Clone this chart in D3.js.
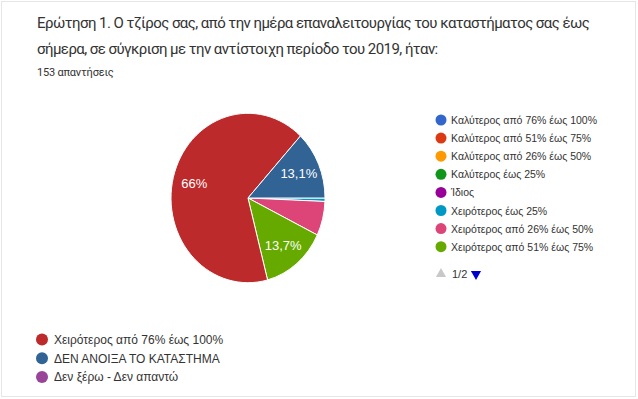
<!DOCTYPE html>
<html>
<head>
<meta charset="utf-8">
<script src="https://cdn.jsdelivr.net/npm/d3@7"></script>
<style>
  body { margin:0; background:#fff; }
  svg { display:block; }
</style>
</head>
<body>
<div id="chart"></div>
<script>
var titleLines = [
  "Ερώτηση 1. Ο τζίρος σας, από την ημέρα επαναλειτουργίας του καταστήματος σας έως",
  "σήμερα, σε σύγκριση με την αντίστοιχη περίοδο του 2019, ήταν:"
];
var responsesLabel = "153 απαντήσεις";

var categories = [
  "Καλύτερος από 76% έως 100%",
  "Καλύτερος από 51% έως 75%",
  "Καλύτερος από 26% έως 50%",
  "Καλύτερος έως 25%",
  "Ίδιος",
  "Χειρότερος έως 25%",
  "Χειρότερος από 26% έως 50%",
  "Χειρότερος από 51% έως 75%",
  "Χειρότερος από 76% έως 100%",
  "ΔΕΝ ΑΝΟΙΞΑ ΤΟ ΚΑΤΑΣΤΗΜΑ",
  "Δεν ξέρω - Δεν απαντώ"
];
// number of answers per category (153 in total)
var counts = [0, 0, 0, 0, 0, 1, 10, 21, 101, 20, 0];
var colours = ["#3366cc", "#dc3912", "#ff9900", "#109618", "#990099", "#0099c6",
               "#dd4477", "#66aa00", "#bc2a2c", "#316395", "#994499"];

// which categories go in the side legend (page 1/2) and in the bottom legend
var sideLegend = [0, 1, 2, 3, 4, 5, 6, 7];
var bottomLegend = [8, 9, 10];
var pageLabel = "1/2";

var width = 638, height = 399;
var svg = d3.select("#chart").append("svg")
  .attr("width", width)
  .attr("height", height);

// light frame round the screenshot
svg.append("rect")
  .attr("x", 1.5).attr("y", 1.5)
  .attr("width", 634).attr("height", 395)
  .attr("fill", "none")
  .attr("stroke", "#e6e6e6");

svg.selectAll(".title")
  .data(titleLines)
  .enter()
  .append("text")
  .attr("class", "title")
  .attr("x", 37)
  .attr("y", function(d, i) { return 28 + i * 26; })
  .style("font-family", "Roboto")
  .style("font-size", "15px")
  .style("letter-spacing", "-0.55px")
  .style("fill", "#333")
  .text(function(d) { return d; });

svg.append("text")
  .attr("x", 37).attr("y", 76)
  .style("font-family", "Roboto")
  .style("font-size", "11px")
  .style("letter-spacing", "-0.2px")
  .style("fill", "#333")
  .text(responsesLabel);

/// pie
var data = categories.map(function(c, i) {
  return {label: c, value: counts[i], colour: colours[i]};
});
var total = d3.sum(counts);
var cx = 248, cy = 198, r = 77, stretch = 1.1;

var pie = d3.pie()
  .sort(null)
  .value(function(d) { return d.value; })
  .startAngle(Math.PI / 2)
  .endAngle(Math.PI / 2 + 2 * Math.PI);
var arcs = pie(data).filter(function(d) { return d.value > 0; });

var arc = d3.arc().innerRadius(0).outerRadius(r);
var labelArc = d3.arc().innerRadius(r * 0.72).outerRadius(r * 0.72);

var pieG = svg.append("g")
  .attr("transform", "translate(" + cx + "," + cy + ") scale(1," + stretch + ")");

pieG.selectAll("path")
  .data(arcs)
  .enter()
  .append("path")
  .attr("d", arc)
  .attr("fill", function(d) { return d.data.colour; })
  .attr("stroke", "#fff")
  .attr("stroke-width", 1)
  .attr("vector-effect", "non-scaling-stroke");

var fmt = d3.format(".1f");
function pctLabel(v) {
  var s = fmt(v / total * 100);
  if (s.slice(-2) == ".0") s = s.slice(0, -2);
  return s.replace(".", ",") + "%";
}

svg.selectAll(".sliceLabel")
  .data(arcs.filter(function(d) { return d.value / total > 0.1; }))
  .enter()
  .append("text")
  .attr("class", "sliceLabel")
  .attr("x", function(d) { return cx + labelArc.centroid(d)[0]; })
  .attr("y", function(d) { return cy + labelArc.centroid(d)[1] * stretch + 4.5; })
  .attr("text-anchor", "middle")
  .style("font-family", "Liberation Sans")
  .style("font-size", "13px")
  .style("fill", "#fff")
  .text(function(d) { return pctLabel(d.value); });

/// side legend
var side = svg.selectAll(".sideEntry")
  .data(sideLegend)
  .enter()
  .append("g")
  .attr("class", "sideEntry")
  .attr("transform", function(d, i) { return "translate(441," + (120 + i * 18.1) + ")"; });
side.append("circle")
  .attr("r", 5.5)
  .attr("fill", function(d) { return colours[d]; });
side.append("text")
  .attr("x", 10).attr("y", 4)
  .style("font-family", "Liberation Sans")
  .style("font-size", "10.5px")
  .style("fill", "#333")
  .text(function(d) { return categories[d]; });

// pager
var pager = svg.append("g").attr("transform", "translate(441,274)");
pager.append("path")
  .attr("d", d3.symbol().type(d3.symbolTriangle).size(45))
  .attr("fill", "#c8c8c8");
pager.append("text")
  .attr("x", 11).attr("y", 4)
  .style("font-family", "Liberation Sans")
  .style("font-size", "11px")
  .style("fill", "#333")
  .text(pageLabel);
pager.append("path")
  .attr("d", d3.symbol().type(d3.symbolTriangle).size(45))
  .attr("transform", "translate(35,0) rotate(180)")
  .attr("fill", "#0000cc");

/// bottom legend
var bottom = svg.selectAll(".bottomEntry")
  .data(bottomLegend)
  .enter()
  .append("g")
  .attr("class", "bottomEntry")
  .attr("transform", function(d, i) { return "translate(42," + (339.5 + i * 18.7) + ")"; });
bottom.append("circle")
  .attr("r", 6)
  .attr("fill", function(d) { return colours[d]; });
bottom.append("text")
  .attr("x", 12).attr("y", 4.5)
  .style("font-family", "Liberation Sans")
  .style("font-size", "12px")
  .style("fill", "#333")
  .text(function(d) { return categories[d]; });
</script>
</body>
</html>
